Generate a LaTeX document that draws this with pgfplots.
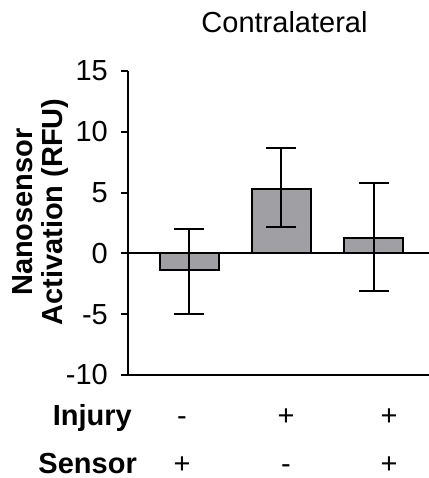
\documentclass[border=0pt]{standalone}
\usepackage{pgfplots}
\pgfplotsset{compat=1.18}
\usepackage{fontspec}
\setmainfont{Liberation Sans}
\definecolor{barfill}{RGB}{160,160,164}
\begin{document}
\begin{tikzpicture}
\useasboundingbox (0,0) rectangle (429bp,478bp);
\begin{axis}[
  at={(128bp,103bp)}, anchor=south west,
  scale only axis, width=301bp, height=304bp,
  xmin=-0.668, xmax=2.603, ymin=-10, ymax=15,
  axis x line*=bottom, axis y line*=left,
  axis line style={line width=2bp, black},
  xtick=\empty,
  ytick={-10,-5,0,5,10,15},
  tick align=outside, major tick length=7bp,
  tick style={line width=2bp, black},
  y axis line style={-}, x axis line style={-},
  /pgf/number format/assume math mode=true,
  yticklabel style={font=\fontsize{29bp}{34bp}\selectfont, inner sep=0pt, anchor=east, xshift=-13bp},
  clip=false,
]
\draw[line width=2bp] (axis cs:-0.668,0) -- (axis cs:2.603,0);
\addplot[ybar, bar width=59bp, fill=barfill, draw=black, line width=2bp,
  error bars/.cd, y dir=both, y explicit,
  error bar style={line width=2bp, black},
  error mark options={rotate=90, mark size=15bp, line width=2bp}]
  coordinates {
    (0,-1.37) += (0,3.40) -= (0,3.63)
    (1,5.30) += (0,3.34) -= (0,3.10)
    (2,1.24) += (0,4.55) -= (0,4.36)
  };
\end{axis}
\node[anchor=base, font=\fontsize{29bp}{34bp}\selectfont] at (284.5bp,445bp) {Contralateral};
\node[rotate=90, align=center, font=\fontsize{29bp}{30bp}\selectfont\bfseries] at (40.5bp,266bp) {Nanosensor\\Activation (RFU)};
\node[anchor=base east, inner sep=0pt, font=\fontsize{29bp}{34bp}\selectfont\bfseries] at (132bp,52bp) {Injury};
\node[anchor=base east, inner sep=0pt, font=\fontsize{29bp}{34bp}\selectfont\bfseries] at (137bp,5bp) {Sensor};
\node[anchor=base, inner sep=0pt, font=\fontsize{29bp}{34bp}\selectfont] at (182bp,52bp) {-};
\node[anchor=base, inner sep=0pt, font=\fontsize{29bp}{34bp}\selectfont] at (286bp,52bp) {+};
\node[anchor=base, inner sep=0pt, font=\fontsize{29bp}{34bp}\selectfont] at (389bp,52bp) {+};
\node[anchor=base, inner sep=0pt, font=\fontsize{29bp}{34bp}\selectfont] at (182bp,5bp) {+};
\node[anchor=base, inner sep=0pt, font=\fontsize{29bp}{34bp}\selectfont] at (286bp,5bp) {-};
\node[anchor=base, inner sep=0pt, font=\fontsize{29bp}{34bp}\selectfont] at (389bp,5bp) {+};
\end{tikzpicture}
\end{document}
